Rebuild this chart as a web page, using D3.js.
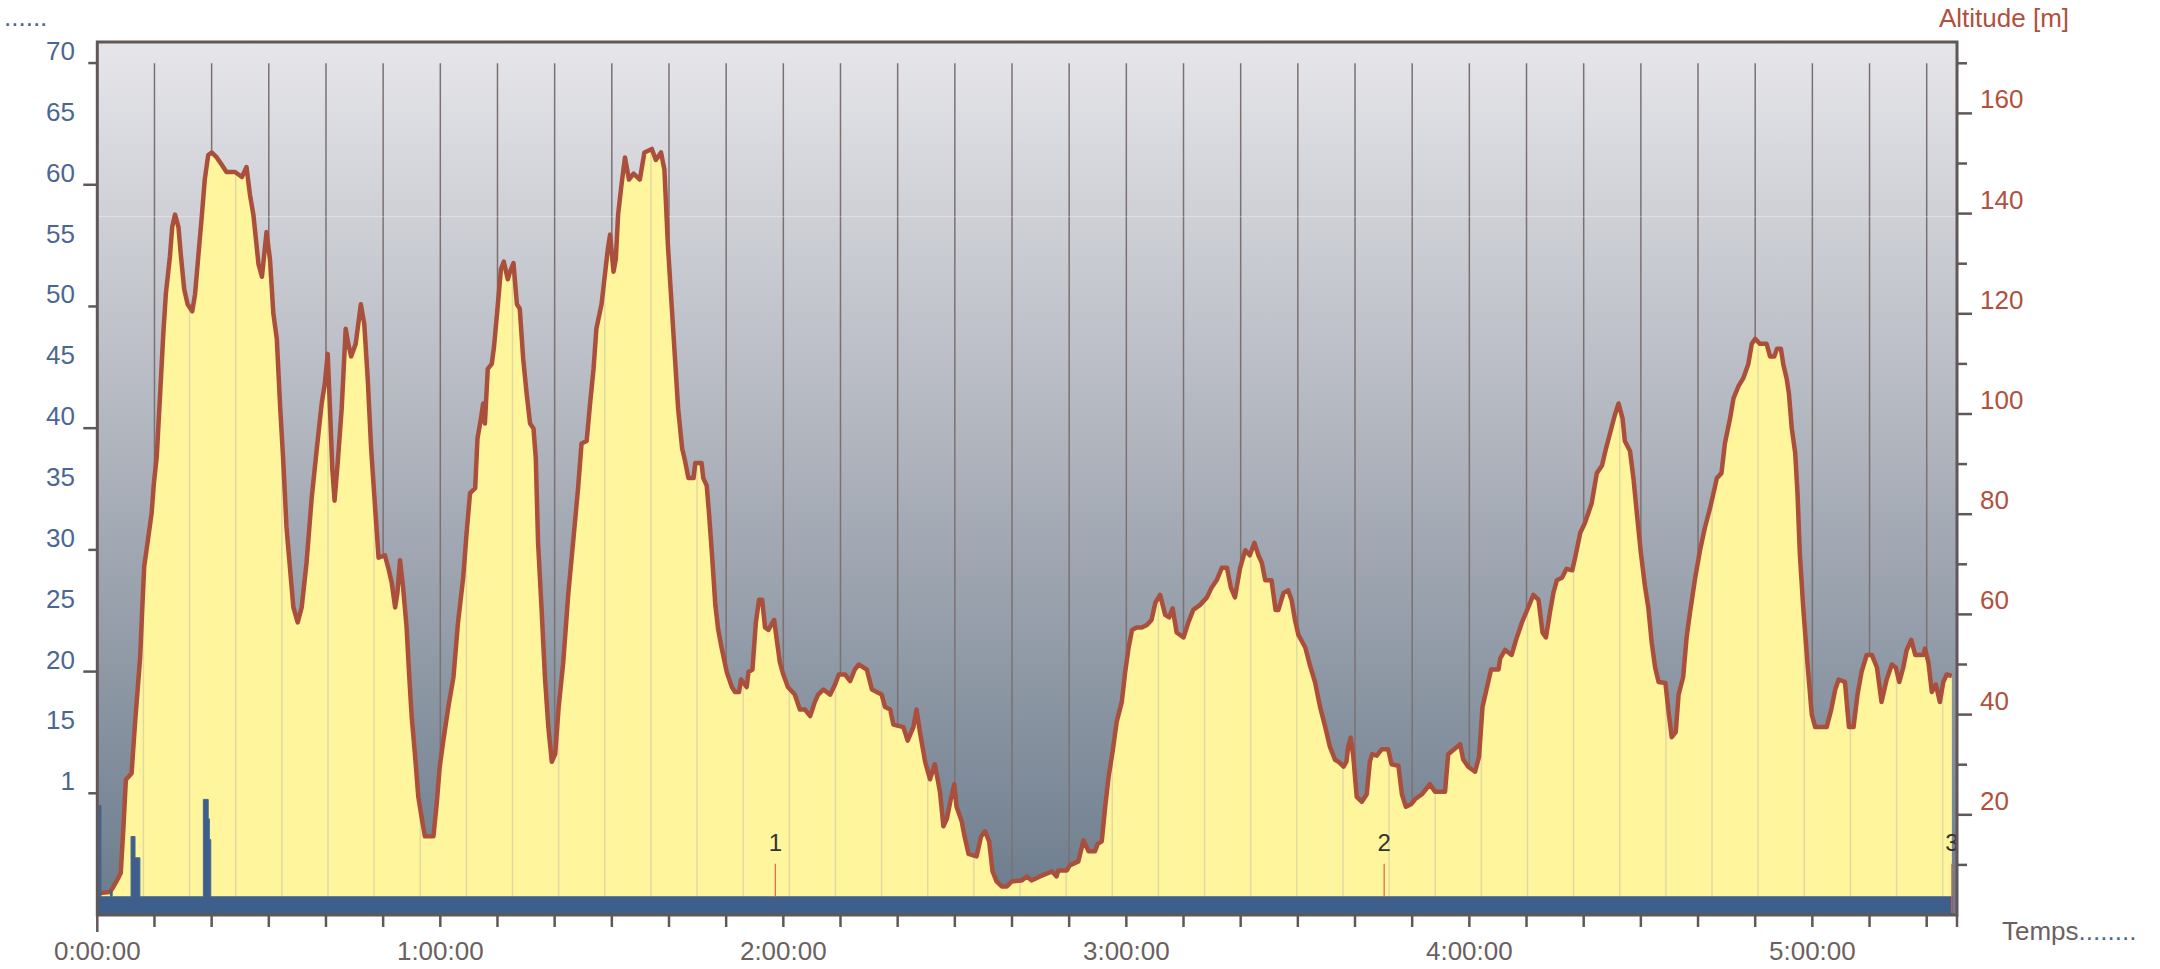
<!DOCTYPE html>
<html><head><meta charset="utf-8">
<script src="https://cdn.jsdelivr.net/npm/d3@7"></script>
<style>html,body{margin:0;padding:0;background:#fff;}svg{display:block;font-family:"Liberation Sans",Arial,Helvetica,sans-serif;}</style>
</head><body><svg id="c" width="2160" height="969"></svg>
<script>
// ---- data (time in minutes) ----
const altMinutes = [0.35,2.2,2.8,3.3,4.1,4.55,5.0,6.0,6.6,7.5,7.8,8.2,8.65,9.5,9.9,10.4,11.0,11.55,12.0,12.7,13.1,13.6,14.2,14.6,15.2,15.8,16.6,17.1,17.7,18.3,18.8,19.4,20.0,20.9,21.8,22.6,24.1,25.3,26.1,26.7,27.3,28.2,28.8,29.6,30.2,30.8,31.4,32.0,32.5,33.1,33.7,34.3,35.05,35.75,36.6,37.5,38.4,39.25,39.8,40.3,40.7,41.1,41.5,42.05,42.75,43.45,43.9,44.4,45.2,46.1,46.7,47.3,47.9,48.6,49.2,50.3,50.9,51.5,52.1,52.5,52.95,53.5,54.1,54.6,55.0,55.6,56.15,56.7,57.3,58.8,59.4,59.9,60.5,61.4,62.3,63.1,64.0,64.6,65.2,66.1,66.5,67.1,67.5,67.8,68.3,69.0,69.4,70.0,70.6,71.1,71.8,72.2,72.8,73.4,73.9,74.5,75.1,75.7,76.3,76.7,77.1,77.7,78.3,78.9,79.5,80.1,80.7,81.5,82.4,83.3,84.1,84.7,85.6,86.2,86.8,87.3,88.2,88.8,89.3,89.7,90.3,90.7,91.1,91.7,92.3,93.0,93.8,94.9,95.7,97.0,97.7,98.6,99.2,99.8,100.4,101.0,101.6,102.3,102.8,103.4,104.3,104.6,105.7,106.0,106.6,107.0,107.5,108.1,108.6,109.2,110.1,111.0,111.55,112.25,112.6,113.6,113.9,114.6,115.2,115.75,116.3,116.8,117.4,117.85,118.4,118.8,119.4,120.0,120.8,122.0,122.9,123.8,124.7,125.5,126.1,127.0,128.2,129.05,129.7,130.8,131.7,132.5,133.2,134.6,135.5,137.2,137.8,138.7,139.25,141.0,141.75,142.75,143.3,143.9,144.8,145.65,146.5,147.4,148.0,148.6,149.2,149.9,150.3,151.2,151.7,152.4,153.8,154.6,155.3,156.0,156.6,157.3,158.2,159.1,159.95,161.7,162.6,163.4,164.9,167.0,167.8,168.1,169.6,170.1,171.6,172.5,173.4,174.5,175.0,175.7,176.3,176.9,177.6,178.3,179.2,179.8,180.4,181.0,181.8,182.7,183.6,184.4,185.1,185.9,186.8,187.5,188.1,188.8,190.0,190.85,191.7,192.9,194.1,194.9,195.8,196.7,197.6,198.3,199.0,199.9,200.8,201.6,202.4,203.1,203.7,204.3,205.4,206.1,206.6,207.5,208.3,208.9,209.5,210.1,211.3,212.1,213.0,213.9,214.8,215.6,216.5,217.1,218.0,218.5,218.8,219.25,219.7,220.3,221.2,222.05,222.6,223.0,223.8,224.7,225.8,226.4,227.6,228.2,228.9,229.8,230.5,231.7,233.1,234.0,235.75,236.3,238.4,238.9,239.8,241.0,241.7,242.3,242.9,243.8,245.1,245.4,246.25,247.4,248.3,249.2,250.3,251.2,252.1,252.8,253.4,254.1,254.7,255.3,256.2,257.0,258.0,258.5,259.4,260.2,261.4,262.3,263.2,263.9,264.6,265.4,266.1,266.8,267.2,268.1,268.7,269.3,270.0,270.7,271.3,271.9,272.5,273.1,274.3,274.9,275.4,276.1,276.6,277.4,278.0,278.6,279.5,280.35,281.2,282.1,282.7,283.3,284.1,284.7,285.6,286.2,287.1,287.9,288.8,289.4,290.0,290.8,292.0,292.6,293.35,293.8,294.5,294.9,295.5,295.9,296.4,297.0,297.4,297.8,298.4,299.2,299.9,300.5,302.5,303.3,304.0,304.6,305.7,306.4,307.2,307.9,308.6,309.5,310.4,311.3,312.1,313.0,313.9,314.6,315.2,315.9,316.5,317.3,318.0,319.4,319.7,320.3,320.9,321.6,322.3,322.9,323.5,324.4];
const altMeters = [4.4,4.6,5.6,6.6,8.4,17,27,28.3,38.3,51.5,59.5,69.5,73.2,80.2,86.2,91.5,104.2,116.1,124.1,131.4,137.3,139.8,137.3,131.9,124.9,121.9,120.5,123.9,131.9,139.8,146.8,151.7,152.2,151.2,149.7,148.3,148.3,147.3,149.3,143.8,139.8,129.9,127.4,136.3,130.9,120.0,115.0,101.1,91.2,77.3,69.3,61.4,58.4,61.4,70.3,83.2,93.1,102.1,106.1,112.0,101.1,89.2,82.7,90.2,101.1,117.0,114.0,111.5,114.0,121.9,118.0,107.1,93.1,81.2,71.3,71.8,69.3,66.3,61.4,64.3,70.8,65.3,57.4,47,39.5,31.6,23.6,19.7,15.7,15.7,22.6,29.6,34.6,41.5,47.5,58.4,67.3,76.3,84.2,85.2,95.1,99.1,102.1,98.1,109.0,110.0,113.5,121.0,128.9,130.4,126.9,128.4,130.1,121.9,121.0,111.0,104.1,98.1,97.1,91.2,74.3,61.4,47.5,37.5,30.6,32.1,41.5,50.4,64.3,75.3,85.2,94.1,94.6,102.1,109.0,117.0,121.9,127.9,132.9,135.8,128.4,130.9,139.8,145.8,151.2,146.8,148.0,146.8,152.2,152.9,150.7,152.2,148.8,133.9,122.9,112.0,101.1,93.1,90.7,87.2,87.2,90.2,90.2,87.2,85.7,80.2,72.3,62,57,53.4,48.5,45.5,44.5,44.5,47.0,45.5,48.5,49.0,58.4,62.9,62.9,57.4,56.9,57.9,58.9,55.4,50.4,48.0,45.5,44.0,41.0,41.0,39.7,42.5,44.0,45.0,44.0,46.0,48.0,48.0,46.7,49.0,50.0,49.0,45.0,44.0,41.5,41.0,38.0,37.5,34.8,37.5,41.0,36.5,30.6,27.1,30.1,24.6,17.7,19.2,22.6,26.1,21.6,18.7,15.7,12.2,11.7,15.7,16.7,14.7,8.7,6.7,5.7,5.7,6.7,6.9,7.7,6.9,7.7,8.7,7.7,8.9,8.9,9.9,10.7,14.9,12.7,12.7,14.2,14.7,21.6,27.6,32.6,38.5,42.5,48.5,53.4,56.9,57.4,57.4,57.9,58.9,62.4,63.9,59.9,59.4,61.2,56.4,55.4,58.4,60.9,61.9,63.4,65.3,66.8,69.3,69.3,65.3,63.4,69.3,72.8,71.8,74.3,71.8,70.3,66.8,66.8,60.9,60.9,64.3,64.8,62.9,58.9,55.9,53.4,49.9,46.5,41.5,37.5,33.6,31.0,30.6,29.6,30.6,33.6,35.4,31.6,23.6,22.6,24.1,30.6,32.1,31.8,33.1,33.1,30.1,29.8,24.1,21.6,22.1,23.1,24.1,26.1,24.6,24.6,32.1,34.1,31.1,29.6,28.6,31.6,41.5,44.5,49.0,49.0,51.2,52.9,51.9,55.4,58.4,61.4,63.9,62.9,56.4,55.4,60.4,64.3,66.8,67.3,69.1,68.8,71.3,76.3,78.2,82.2,88.2,89.7,93.1,96.1,99.6,102.1,99.1,94.6,92.6,87.2,80.2,72.3,65.8,61.4,54.4,49.4,46.5,46.3,40.0,35.5,36.5,44.0,47.5,55.4,60.4,67.3,72.8,77.3,81.2,84.2,87.2,88.2,94.1,99.1,103.1,105.6,107.1,110.0,114.0,115.0,114.0,114.0,111.5,111.5,113.0,113.0,110.0,107.1,104.1,97.1,92.2,84.2,72.3,61.4,49.4,40.0,37.5,37.5,41.0,45.0,47.0,46.5,37.5,37.5,44.0,48.5,51.9,51.9,49.4,42.5,47.0,50.0,49.4,46.5,49.4,52.9,54.9,51.9,51.9,53.2,50.4,44.5,46.0,42.5,46.5,48.0,47.7];
const speedMinutes = [0, 0.3, 0.65, 2.3, 2.6, 5.9, 6.6, 7.45, 18.55, 19.4, 19.6, 19.85, 324.5];
const speedValues  = [1.5, 9.0, 1.5, 2.0, 1.5, 6.45, 4.7, 1.5, 9.5, 7.9, 6.2, 1.5, 1.5];
const lapMinutes = [118.6, 225.1, 324.4];
const lapLabels = ["1", "2", "3"];
const leftTickValues = [70, 65, 60, 55, 50, 45, 40, 35, 30, 25, 20, 15, 10];
const leftTickLabels = ["70", "65", "60", "55", "50", "45", "40", "35", "30", "25", "20", "15", "1"];
const leftTickMarks = [10, 20, 30, 40, 50, 60, 70];
const rightTickLabels = [20, 40, 60, 80, 100, 120, 140, 160];
const rightTickMarks = [10, 20, 30, 40, 50, 60, 70, 80, 90, 100, 110, 120, 130, 140, 150, 160, 170];
const hourTickMinutes = [0, 60, 120, 180, 240, 300];
const hourTickLabels = ["0:00:00", "1:00:00", "2:00:00", "3:00:00", "4:00:00", "5:00:00"];
const totalMinutes = 325.3;
const gridTopAlt = 170;
const highlightAlt = 139.4;
const distGridStep = 8.07;

// ---- layout ----
const L = 97.3, R = 1957, T = 42, B = 915;
const x = d3.scaleLinear([0, totalMinutes], [L, R]);
const yAlt = d3.scaleLinear([0, 174.25], [B, T]);
const yL = d3.scaleLinear([0, 71.73], [B, T]);

const svg = d3.select("#c");
const defs = svg.append("defs");
const grad = defs.append("linearGradient").attr("id", "bg").attr("x1", 0).attr("y1", 0).attr("x2", 0).attr("y2", 1);
grad.append("stop").attr("offset", "0%").attr("stop-color", "#e6e6ea");
grad.append("stop").attr("offset", "45%").attr("stop-color", "#b1b5be");
grad.append("stop").attr("offset", "100%").attr("stop-color", "#6b7b8c");

const altData = altMinutes.map((m, i) => [m, altMeters[i]]);
const spdData = speedMinutes.map((m, i) => [m, speedValues[i]]);

const area = d3.area().x(d => x(d[0])).y0(B).y1(d => yAlt(d[1]));
const line = d3.line().x(d => x(d[0])).y(d => yAlt(d[1]));

defs.append("clipPath").attr("id", "altclip").append("path").attr("d", area(altData));

svg.append("rect").attr("x", L).attr("y", T).attr("width", R - L).attr("height", B - T).attr("fill", "url(#bg)");

// dark time grid
const tenMin = d3.range(10, totalMinutes, 10);
svg.append("g").selectAll("line").data(tenMin).join("line")
  .attr("x1", d => x(d)).attr("x2", d => x(d))
  .attr("y1", yAlt(gridTopAlt)).attr("y2", B)
  .attr("stroke", "#7b7171").attr("stroke-width", 1.5);

// faint highlight
svg.append("line").attr("x1", L).attr("x2", R).attr("y1", yAlt(highlightAlt)).attr("y2", yAlt(highlightAlt))
  .attr("stroke", "#ffffff").attr("stroke-opacity", 0.35).attr("stroke-width", 1);

// yellow area
svg.append("path").attr("d", area(altData)).attr("fill", "#fff59c");

// light grid inside area
svg.append("g").attr("clip-path", "url(#altclip)").selectAll("line")
  .data(d3.range(distGridStep, totalMinutes, distGridStep)).join("line")
  .attr("x1", d => x(d)).attr("x2", d => x(d)).attr("y1", T).attr("y2", B)
  .attr("stroke", "#e2d9a2").attr("stroke-width", 1.5);

// altitude line
svg.append("path").attr("d", line(altData)).attr("fill", "none")
  .attr("stroke", "#a94f3c").attr("stroke-width", 4.5).attr("stroke-linejoin", "round");

// blue series
const spdArea = d3.area().curve(d3.curveStepAfter).x(d => x(d[0])).y0(B).y1(d => yL(d[1]));
svg.append("path").attr("d", spdArea(spdData)).attr("fill", "#3e5f8b")
  .attr("stroke", "#4a6890").attr("stroke-width", 1);

// lap markers
const lapG = svg.append("g");
lapG.selectAll("line").data(lapMinutes).join("line")
  .attr("x1", d => x(d)).attr("x2", d => x(d))
  .attr("y1", yL(1.5) - 33).attr("y2", (d, i) => i === 2 ? B - 2 : yL(1.5))
  .attr("stroke", "#e0604c").attr("stroke-width", 1.2);
lapG.selectAll("text").data(lapMinutes).join("text")
  .attr("x", d => x(d)).attr("y", yL(1.5) - 46)
  .attr("text-anchor", "middle").attr("font-size", 24).attr("fill", "#333333")
  .text((d, i) => lapLabels[i]);

// frame
const frameColor = "#605757";
svg.append("rect").attr("x", L).attr("y", T).attr("width", R - L).attr("height", B - T)
  .attr("fill", "none").attr("stroke", frameColor).attr("stroke-width", 3);

// bottom ticks
const bTicks = d3.range(0, totalMinutes, 10).concat([totalMinutes]);
svg.append("g").selectAll("line").data(bTicks).join("line")
  .attr("x1", d => x(d)).attr("x2", d => x(d)).attr("y1", B).attr("y2", (d) => d === 0 ? B + 17 : B + 12)
  .attr("stroke", frameColor).attr("stroke-width", 2.5);
svg.append("g").selectAll("text").data(hourTickMinutes).join("text")
  .attr("x", d => x(d)).attr("y", 960).attr("text-anchor", "middle")
  .attr("font-size", 26).attr("fill", "#6b5f5f").text((d, i) => hourTickLabels[i]);

// left ticks
svg.append("g").selectAll("line").data(leftTickMarks).join("line")
  .attr("x1", d => (d % 20 === 0) ? L - 14 : L - 9).attr("x2", L)
  .attr("y1", d => yL(d)).attr("y2", d => yL(d))
  .attr("stroke", frameColor).attr("stroke-width", 2.5);
svg.append("g").selectAll("text").data(leftTickValues).join("text")
  .attr("x", 75).attr("y", d => yL(d) - 3).attr("text-anchor", "end")
  .attr("font-size", 26).attr("fill", "#4b6791").text((d, i) => leftTickLabels[i]);

// right ticks
svg.append("g").selectAll("line").data(rightTickMarks).join("line")
  .attr("x1", R).attr("x2", d => (d % 20 === 0) ? R + 15 : R + 10)
  .attr("y1", d => yAlt(d)).attr("y2", d => yAlt(d))
  .attr("stroke", frameColor).attr("stroke-width", 2.5);
svg.append("g").selectAll("text").data(rightTickLabels).join("text")
  .attr("x", 1980).attr("y", d => yAlt(d) - 5).attr("text-anchor", "start")
  .attr("font-size", 26).attr("fill", "#b0513e").text(d => d);

// titles
svg.append("text").attr("x", 1939).attr("y", 27).attr("font-size", 26).attr("fill", "#b0513e").text("Altitude [m]");
svg.append("text").attr("x", 4).attr("y", 26).attr("font-size", 26).attr("fill", "#4b6791").text("......");
const tt = svg.append("text").attr("x", 2002).attr("y", 940).attr("font-size", 26);
tt.append("tspan").attr("fill", "#6b5f5f").text("Temps");
tt.append("tspan").attr("fill", "#4b6791").text("........");
</script></body></html>
